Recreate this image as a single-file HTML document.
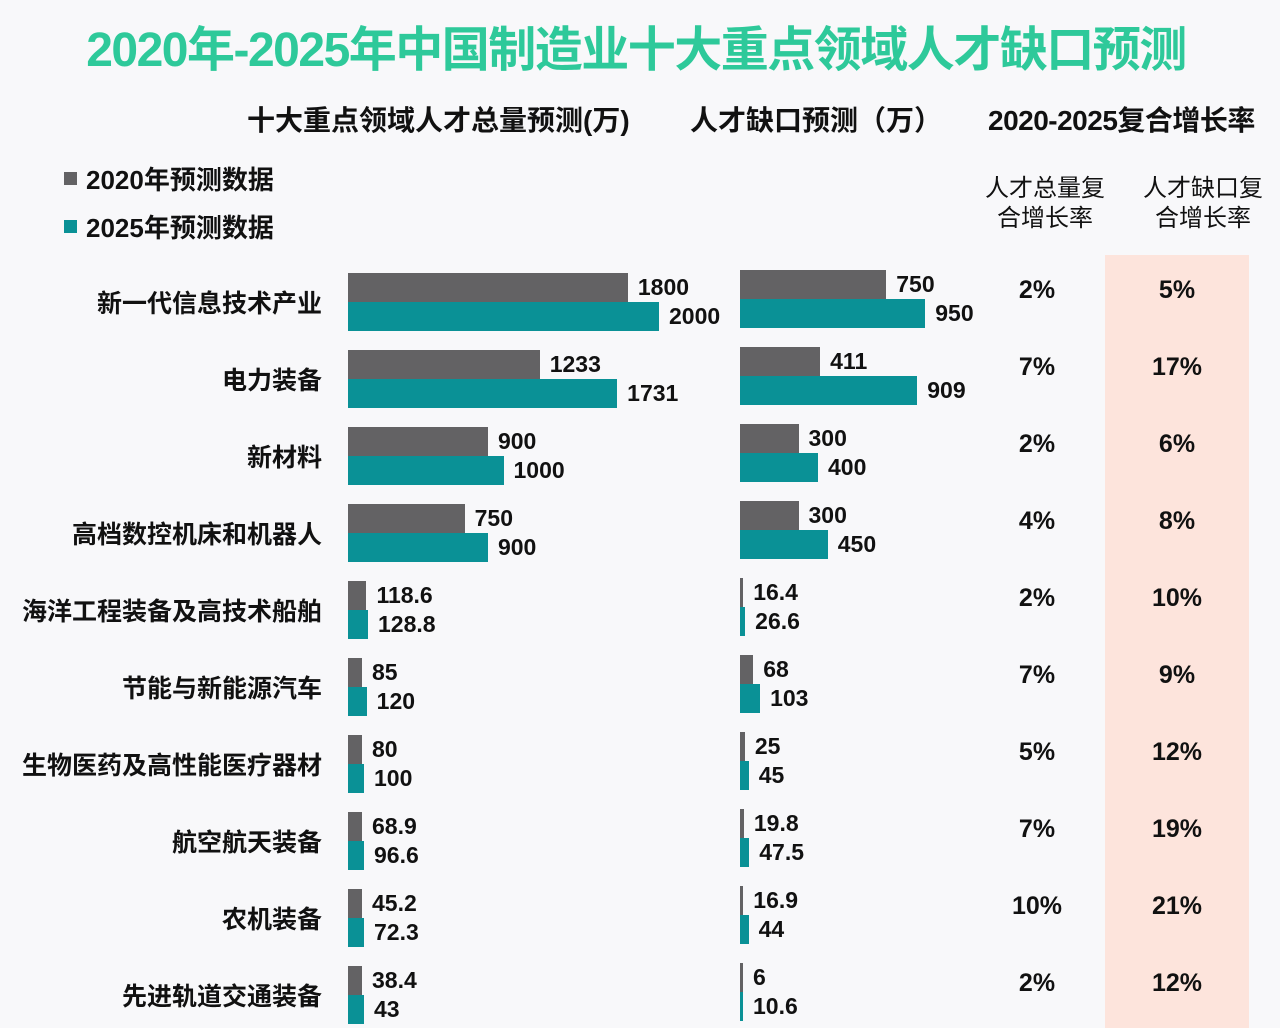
<!DOCTYPE html>
<html><head><meta charset="utf-8"><style>
body{margin:0;width:1280px;height:1028px;background:#f8f8fa;position:relative;overflow:hidden;font-family:"Liberation Sans","Noto Sans CJK SC",sans-serif;color:#111}
.a{position:absolute;white-space:nowrap}
.t{left:0;width:1272px;text-align:center;top:10px;font-size:48px;font-weight:bold;color:#2ec99a;letter-spacing:-1.5px}
.h{font-size:28px;font-weight:bold;top:99px}
.lg{font-size:26px;font-weight:bold}
.sq{width:13px;height:13px}
.cat{right:958px;font-size:25px;font-weight:bold;text-align:right}
.g{background:#636264}.c{background:#0a9196}
.v{font-size:23px;font-weight:bold}
.p{font-size:25px;font-weight:bold;width:120px;text-align:center}
.s{font-size:24px;text-align:center;width:140px;line-height:30px}
</style></head><body>
<div class="a" style="left:1105px;top:255px;width:144px;height:773px;background:#fde4dc"></div>
<div class="a t">2020年-2025年中国制造业十大重点领域人才缺口预测</div>
<div class="a h" style="left:247px">十大重点领域人才总量预测(万)</div>
<div class="a h" style="left:690px">人才缺口预测（万）</div>
<div class="a h" style="left:988px;letter-spacing:-0.5px">2020-2025复合增长率</div>
<div class="a sq g" style="left:64px;top:172px"></div><div class="a lg" style="left:86px;top:160px">2020年预测数据</div>
<div class="a sq c" style="left:64px;top:220px"></div><div class="a lg" style="left:86px;top:208px">2025年预测数据</div>
<div class="a s" style="left:975px;top:174px">人才总量复<br>合增长率</div>
<div class="a s" style="left:1133px;top:174px">人才缺口复<br>合增长率</div>
<div id="r"></div>
<script>
var d=[["新一代信息技术产业",1800,2000,750,950,"2%","5%"],["电力装备",1233,1731,411,909,"7%","17%"],["新材料",900,1000,300,400,"2%","6%"],["高档数控机床和机器人",750,900,300,450,"4%","8%"],["海洋工程装备及高技术船舶","118.6","128.8","16.4","26.6","2%","10%"],["节能与新能源汽车",85,120,68,103,"7%","9%"],["生物医药及高性能医疗器材",80,100,25,45,"5%","12%"],["航空航天装备","68.9","96.6","19.8","47.5","7%","19%"],["农机装备","45.2","72.3","16.9",44,"10%","21%"],["先进轨道交通装备","38.4",43,6,"10.6","2%","12%"]];
var h="";
d.forEach(function(r,i){var y=273+i*77;
h+='<div class="a cat" style="top:'+(y+11)+'px">'+r[0]+'</div>';
function bar(x,v,s,yy,cl,min){var w=Math.max(min,+v*s);h+='<div class="a '+cl+'" style="left:'+x+'px;top:'+yy+'px;width:'+w+'px;height:29px"></div><div class="a v" style="left:'+(x+w+10)+'px;top:'+(yy+1)+'px">'+v+'</div>';}
bar(348,r[1],0.1555,y,"g",14);bar(348,r[2],0.1555,y+29,"c",16);
bar(740,r[3],0.195,y-3,"g",3);bar(740,r[4],0.195,y+26,"c",3);
h+='<div class="a p" style="left:977px;top:'+(y+3)+'px">'+r[5]+'</div><div class="a p" style="left:1117px;top:'+(y+3)+'px">'+r[6]+'</div>';
});
document.getElementById("r").innerHTML=h;
</script>
</body></html>
